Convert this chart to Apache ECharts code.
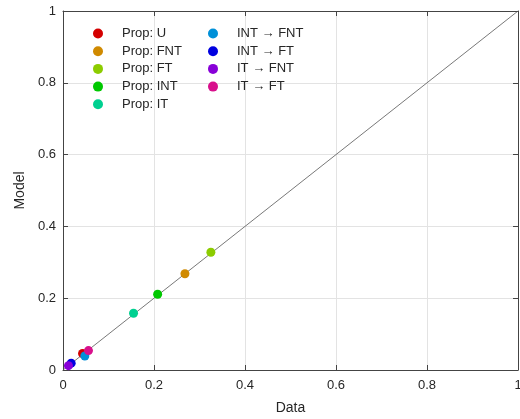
<!DOCTYPE html>
<html><head><meta charset="utf-8">
<script src="https://cdn.jsdelivr.net/npm/echarts@6/dist/echarts.min.js"></script>
<style>html,body{margin:0;padding:0;background:#fff}#c{width:520px;height:419px}</style>
</head><body><div id="c"></div>
<script>
const seriesNames = ['Prop: U','Prop: FNT','Prop: FT','Prop: INT','Prop: IT','INT \u2192 FNT','INT \u2192 FT','IT \u2192 FNT','IT \u2192 FT'];
const colors = ['#d40000','#d08a00','#8ccc00','#00c800','#00d090','#0090d8','#0000e0','#8800d8','#d8108c'];
const dataX = [0.043,0.268,0.325,0.208,0.155,0.048,0.018,0.012,0.056];
const modelY = [0.046,0.268,0.328,0.211,0.158,0.039,0.019,0.012,0.054];
const identityLine = [[0,0],[1,1]];
const ticks = [0,0.2,0.4,0.6,0.8,1];

const font = 'Liberation Sans, Helvetica, Arial, sans-serif';
const txt = '#262626';
const chart = echarts.init(document.getElementById('c'), null, {renderer:'canvas'});
const fmt = v => (v===0?'0':v===1?'1':String(v));
const grid = {left:63, right:2, top:11, bottom:49, containLabel:false, outerBoundsMode:'none'};
const series = [{
  type:'line', data: identityLine, symbol:'none', silent:true,
  lineStyle:{color:'#555', width:0.8}, z:1, xAxisIndex:0, yAxisIndex:0
}];
seriesNames.forEach((n,i)=>{
  series.push({type:'scatter', name:n, data:[[dataX[i], modelY[i]]], symbolSize:9,
    itemStyle:{color:colors[i], opacity:1}, z:3, xAxisIndex:0, yAxisIndex:0});
});
const legendCommon = {orient:'vertical', icon:'circle', itemWidth:10, itemHeight:10, itemGap:4.7,
  textStyle:{fontFamily:font, fontSize:13, color:txt, padding:[0,0,0,14]}, selectedMode:false};
chart.setOption({
  animation:false,
  grid,
  legend:[
    Object.assign({}, legendCommon, {left:88, top:22, data: seriesNames.slice(0,5)}),
    Object.assign({}, legendCommon, {left:203, top:22, data: seriesNames.slice(5)})
  ],
  xAxis:[{
    type:'value', min:0, max:1, interval:0.2, name:'Data', nameLocation:'middle', nameGap:31,
    nameTextStyle:{fontFamily:font, fontSize:14, color:txt},
    axisLine:{lineStyle:{color:'#444', width:1}},
    axisTick:{inside:true, length:5, lineStyle:{color:'#444'}},
    axisLabel:{fontFamily:font, fontSize:13, color:txt, margin:9, formatter:fmt},
    splitLine:{show:true, lineStyle:{color:'#e3e3e3', width:1}}
  },{
    type:'value', position:'top', min:0, max:1, interval:0.2,
    axisLine:{show:true, onZero:false, lineStyle:{color:'#444', width:1}},
    axisTick:{show:true, inside:true, length:5, lineStyle:{color:'#444'}},
    axisLabel:{show:false}, splitLine:{show:false}
  }],
  yAxis:[{
    type:'value', min:0, max:1, interval:0.2, name:'Model', nameLocation:'middle', nameGap:27,
    nameTextStyle:{fontFamily:font, fontSize:14, color:txt},
    axisLine:{show:true, lineStyle:{color:'#444', width:1}},
    axisTick:{show:true, inside:true, length:5, lineStyle:{color:'#444'}},
    axisLabel:{fontFamily:font, fontSize:13, color:txt, margin:7, formatter:fmt},
    splitLine:{show:true, lineStyle:{color:'#e3e3e3', width:1}}
  },{
    type:'value', position:'right', min:0, max:1, interval:0.2,
    axisLine:{show:true, onZero:false, lineStyle:{color:'#444', width:1}},
    axisTick:{show:true, inside:true, length:5, lineStyle:{color:'#444'}},
    axisLabel:{show:false}, splitLine:{show:false}
  }],
  series
});
</script></body></html>
